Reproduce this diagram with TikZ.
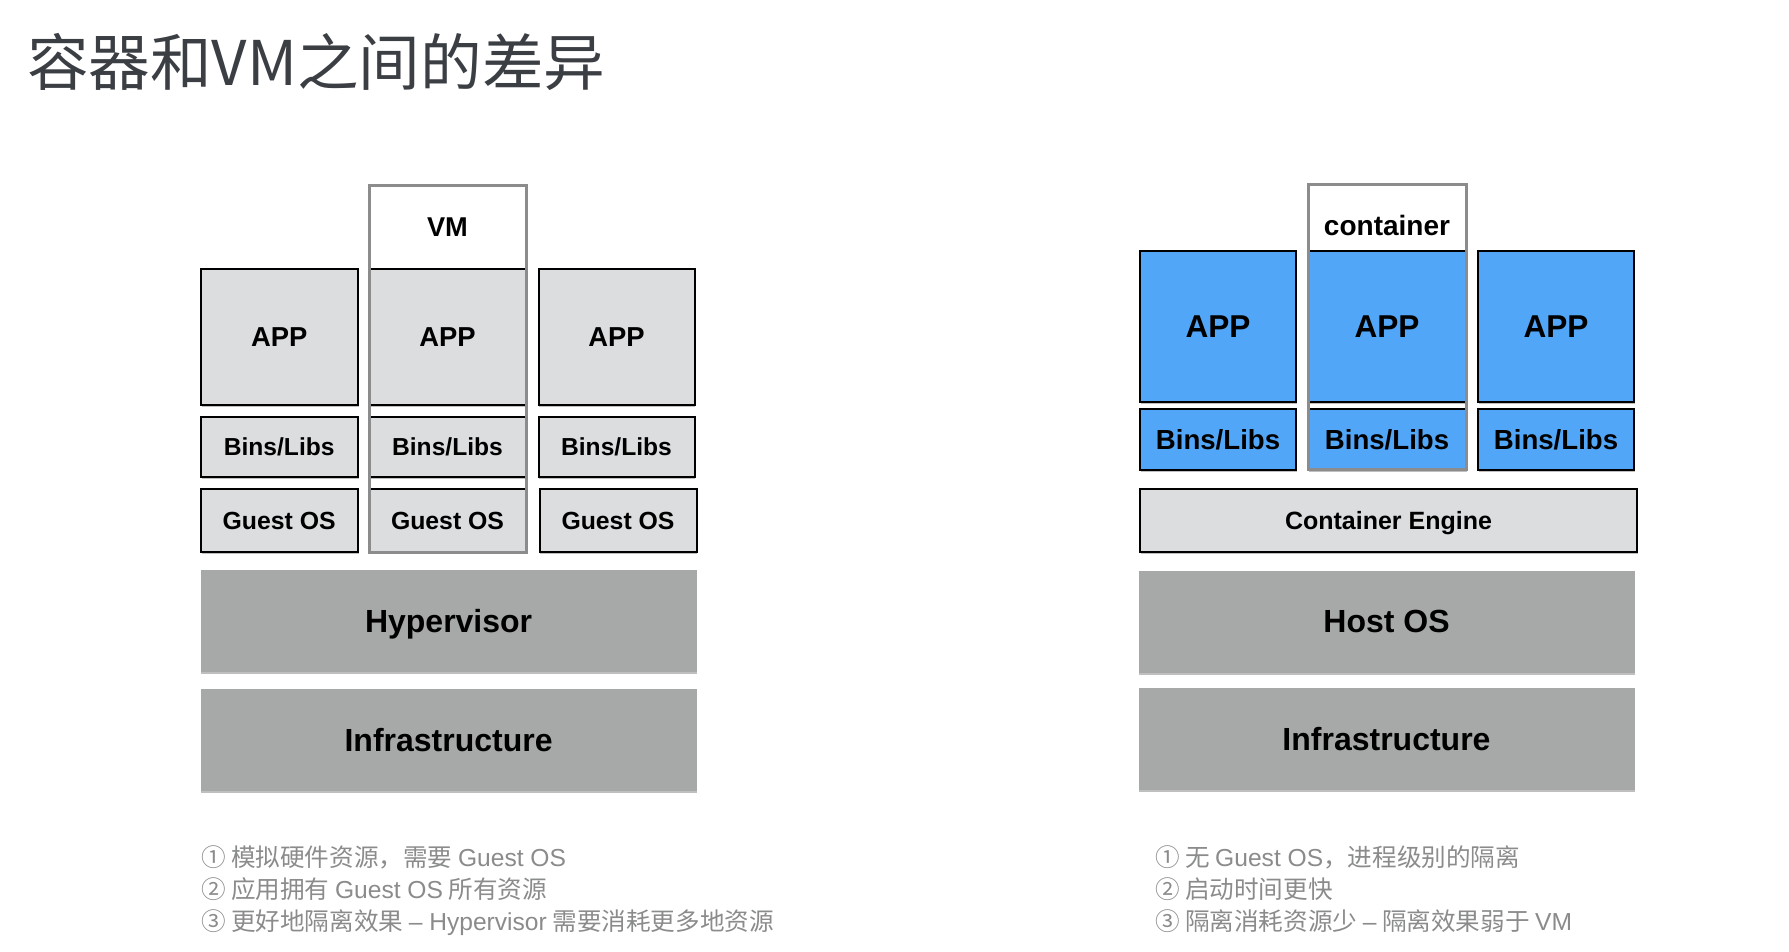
\documentclass[tikz,border=0pt]{standalone}
\usepackage{fontspec}
\setmainfont{Liberation Sans}
\newfontfamily\cjk{Noto Sans CJK SC}
\usepackage{tikz}
\usetikzlibrary{positioning,shadows}
\definecolor{headink}{HTML}{3B3F44}
\definecolor{noteink}{HTML}{8A8B8C}
\definecolor{cellgray}{HTML}{DCDDDF}
\definecolor{slabgray}{HTML}{A6A9A8}
\definecolor{appblue}{HTML}{52A6F8}
\definecolor{framegray}{HTML}{8C8C8C}
\tikzset{
  softshadow/.style = {drop shadow={shadow xshift=0.4pt, shadow yshift=-1pt, opacity=0.25, fill=black}},
  cell/.style      = {draw=black, line width=1pt, fill=cellgray, inner sep=0pt, outer sep=0pt, text depth=0pt, softshadow},
  bluecell/.style  = {cell, fill=appblue},
  slab/.style      = {fill=slabgray, inner sep=0pt, outer sep=0pt, minimum width=248pt, minimum height=51pt, text depth=0pt, softshadow,
                      font=\fontsize{16}{19}\selectfont\bfseries},
  ringframe/.style = {draw=framegray, line width=1.5pt, inner sep=0pt, outer sep=0pt},
  framelab/.style  = {font=\fontsize{13.6}{16}\selectfont\bfseries, inner sep=0pt, outer sep=0pt, text depth=0pt},
  headline/.style  = {font=\fontsize{30.8}{35}\selectfont\cjk\color{headink}, anchor=base west, inner sep=0pt, outer sep=0pt},
  noteline/.style  = {font=\fontsize{12.3}{14}\selectfont\cjk\color{noteink}, anchor=base west, inner sep=0pt, outer sep=0pt},
}

\begin{document}
\begin{tikzpicture}[x=0.5pt,y=-0.5pt]
\path[use as bounding box] (0,0) rectangle (1789,952);

\node[headline] (title) at (27,86) {容器和VM之间的差异};

% ---- virtual machines ---------------------------------------------------
\foreach \i/\x/\w in {1/279.2/78.5pt, 2/447.5/78.5pt, 3/616.5/78pt}{%
  \node[cell, minimum width=\w, minimum height=68pt, font=\fontsize{13.7}{16}\selectfont\bfseries] (vmapp\i) at (\x,337) {APP};
  \node[cell, minimum width=\w, minimum height=30pt, font=\fontsize{12.3}{14}\selectfont\bfseries] (vmbins\i) at (\x,447) {Bins/Libs};
}
\node[cell, minimum width=78.5pt, minimum height=31.5pt, font=\fontsize{12.4}{14}\selectfont\bfseries] (guest1) at (279.2,520.5) {Guest OS};
\node[cell, minimum width=78.5pt, minimum height=31.5pt, font=\fontsize{12.4}{14}\selectfont\bfseries] (guest2) at (447.5,520.5) {Guest OS};
\node[cell, minimum width=78.5pt, minimum height=31.5pt, font=\fontsize{12.4}{14}\selectfont\bfseries] (guest3) at (618,520.5) {Guest OS};

\node[ringframe, minimum width=78.5pt, minimum height=183pt] (vmframe) at (447.5,369) {};
\node[framelab] (vmlab) at (447.5,227) {VM};

\node[slab] (hyper) at (448.6,621) {Hypervisor};
\node[slab] (vminfra) at (448.6,740) {Infrastructure};

% ---- containers ---------------------------------------------------------
\foreach \i/\x/\w in {1/1218/78pt, 2/1387/79pt, 3/1556/78pt}{%
  \node[bluecell, minimum width=\w, minimum height=75.5pt, font=\fontsize{15.8}{18}\selectfont\bfseries] (ctapp\i) at (\x,326.5) {APP};
  \node[bluecell, minimum width=\w, minimum height=30.5pt, font=\fontsize{13.8}{16}\selectfont\bfseries] (ctbins\i) at (\x,439.5) {Bins/Libs};
}
\node[cell, minimum width=248.5pt, minimum height=31.5pt, font=\fontsize{12.5}{15}\selectfont\bfseries] (engine) at (1388.5,520.5) {Container Engine};

\node[ringframe, minimum width=79pt, minimum height=142pt] (ctframe) at (1387,327) {};
\node[framelab, font=\fontsize{14}{16}\selectfont\bfseries] (ctlab) at (1387,225) {container};

\node[slab] (hostos) at (1386.5,621.5) {Host OS};
\node[slab] (ctinfra) at (1386.5,738.5) {Infrastructure};

% ---- notes --------------------------------------------------------------
\foreach \n/\y/\txt in {1/866.7/{① 模拟硬件资源，需要 \textrm{Guest OS}},
                        2/898.3/{② 应用拥有 \textrm{Guest OS} 所有资源},
                        3/930/{③ 更好地隔离效果 \textrm{– Hypervisor} 需要消耗更多地资源}}{%
  \node[noteline] (vmnote\n) at (201,\y) {\txt};
}
\foreach \n/\y/\txt in {1/866.7/{① 无 \textrm{Guest OS}，进程级别的隔离},
                        2/898.3/{② 启动时间更快},
                        3/930/{③ 隔离消耗资源少 \textrm{–} 隔离效果弱于 \textrm{VM}}}{%
  \node[noteline] (ctnote\n) at (1155,\y) {\txt};
}

\end{tikzpicture}
\end{document}
